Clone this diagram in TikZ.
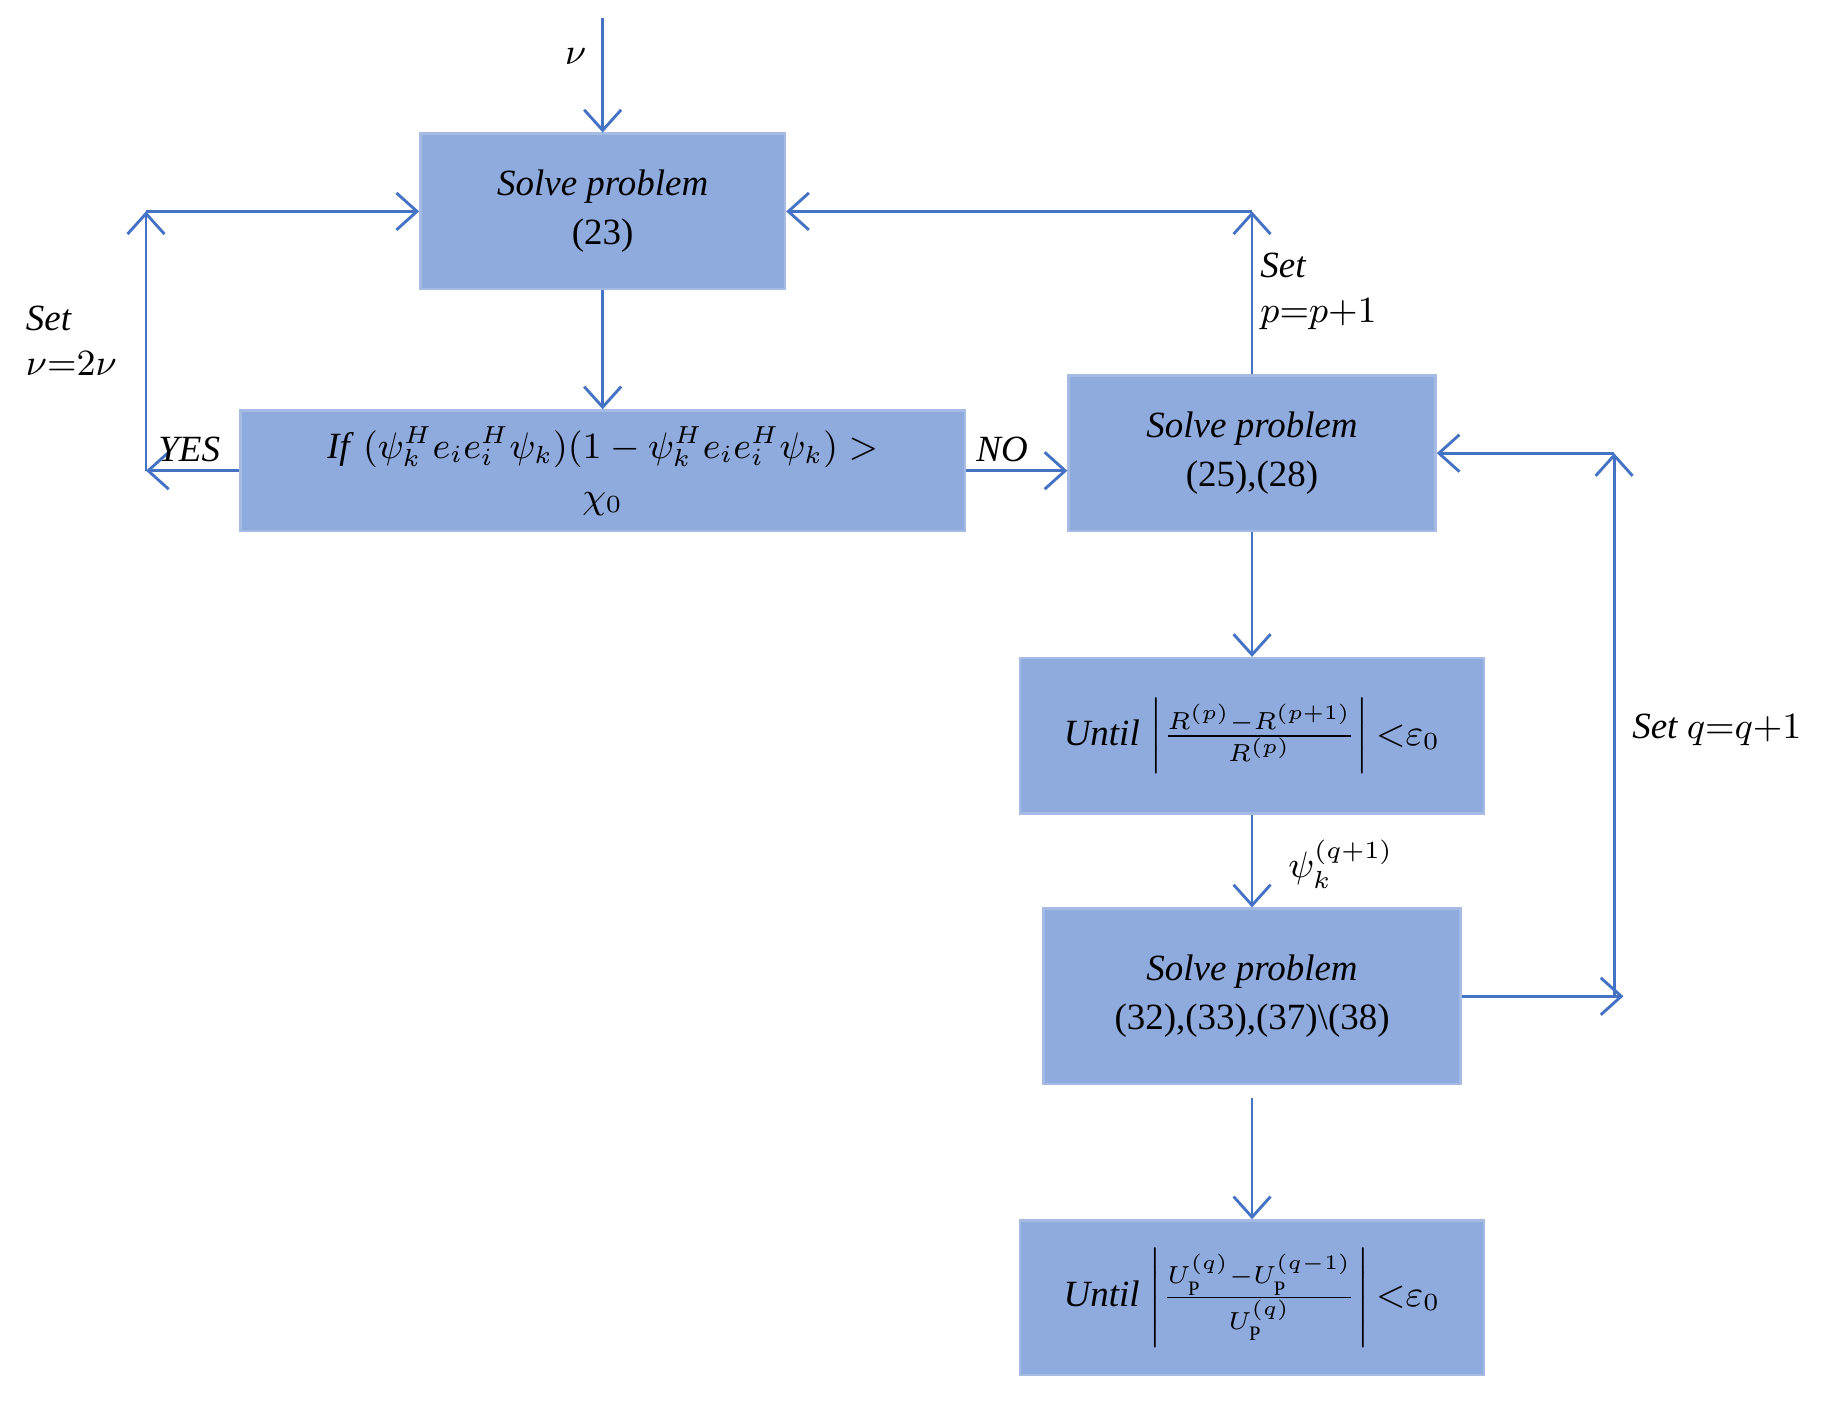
\documentclass[tikz,border=0pt]{standalone}
\usepackage{fontspec}
\setmainfont{Liberation Serif}
\usetikzlibrary{arrows.meta}
\definecolor{bf}{HTML}{8FAADC}
\definecolor{ln}{HTML}{4472C4}
\begin{document}
\begin{tikzpicture}[x=0.01cm,y=-0.01cm,
 box/.style={draw=bf!80!white,fill=bf,line width=0.6pt,inner sep=0pt,align=center,font=\fontsize{9}{12}\selectfont},
 ar/.style={draw=ln,line width=0.7pt,-{Straight Barb[length=5pt,width=9pt]}},
 lab/.style={font=\fontsize{9}{11}\selectfont\itshape,align=left,inner sep=1pt}]
\useasboundingbox (0,0) rectangle (1560,1199);
\node[box,minimum width=3.12cm,minimum height=1.33cm] (b1) at (516,181) {\textit{Solve problem}\\(23)};
\node[box,minimum width=6.2cm,minimum height=1.03cm] (b2) at (516,403) {\textit{If} $(\psi_k^H e_i e_i^H \psi_k)(1-\psi_k^H e_i e_i^H \psi_k) >$\\$\chi_0$};
\node[box,minimum width=3.14cm,minimum height=1.33cm] (b3) at (1072,388) {\textit{Solve problem}\\(25),(28)};
\node[box,minimum width=3.97cm,minimum height=1.33cm] (b4) at (1072,630) {\textit{Until} $\left|\frac{R^{(p)}-R^{(p+1)}}{R^{(p)}}\right|{<}\varepsilon_0$};
\node[box,minimum width=3.57cm,minimum height=1.5cm] (b5) at (1072,853) {\textit{Solve problem}\\(32),(33),(37)\textbackslash(38)};
\node[box,minimum width=3.97cm,minimum height=1.32cm] (b6) at (1072,1111) {\textit{Until} $\left|\frac{U_{\mathrm P}^{(q)}-U_{\mathrm P}^{(q-1)}}{U_{\mathrm P}^{(q)}}\right|{<}\varepsilon_0$};
\coordinate (top) at (516,15);
\coordinate (yl) at (125,403);
\coordinate (yt) at (125,181);
\coordinate (pt) at (1072,181);
\coordinate (qr) at (1390,853);
\coordinate (qb) at (1382,853);
\coordinate (qt) at (1382,388);
\coordinate (nr) at (b3.west |- b2.east);
\coordinate (b5b) at (1072,940);
\draw[ar] (top) -- (b1.north);
\node[lab] (v) at (493,48) {$\nu$};
\draw[ar] (b1.south) -- (b2.north);
\draw[ar] (b2.west) -- (yl);
\draw[ar] (yl) -- (yt);
\draw[ar] (yt) -- (b1.west);
\node[lab] (yes) at (162,385) {YES};
\node[lab,anchor=north west] (s1) at (18,258) {Set\\$\nu{=}2\nu$};
\draw[ar] (b2.east) -- (nr);
\node[lab] (no) at (858,385) {NO};
\draw[ar] (b3.north) -- (pt);
\draw[ar] (pt) -- (b1.east);
\node[lab,anchor=north west] (s2) at (1075,212) {Set\\$p{=}p{+}1$};
\draw[ar] (b3.south) -- (b4.north);
\draw[ar] (b4.south) -- (b5.north);
\node[lab] (psi) at (1148,740) {$\psi_k^{(q+1)}$};
\draw[ar] (b5.east) -- (qr);
\draw[ar] (qb) -- (qt);
\draw[ar] (qt) -- (b3.east);
\node[lab] (s3) at (1470,625) {Set $q{=}q{+}1$};
\draw[ar] (b5b) -- (b6.north);
\end{tikzpicture}
\end{document}
